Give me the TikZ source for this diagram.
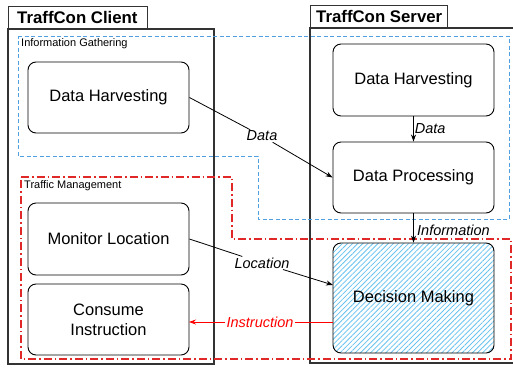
\documentclass[tikz,border=0pt]{standalone}
\usepackage{fontspec}
\setmainfont{Liberation Sans}
\usetikzlibrary{patterns.meta,arrows.meta}
\definecolor{gblue}{RGB}{80,160,225}
\definecolor{mgmtred}{RGB}{225,40,40}
\definecolor{hatch}{RGB}{105,195,240}
\begin{document}
\begin{tikzpicture}[x=1pt,y=-1pt,
  outer/.style={draw=black!80,line width=1.1pt},
  tab/.style={draw=black!80,line width=1.1pt,minimum height=23pt,inner sep=0pt},
  title/.style={font=\fontsize{16.8}{19}\selectfont\bfseries,anchor=west,inner sep=0pt},
  proc/.style={draw=black,line width=0.9pt,rounded corners=8pt,align=center,inner sep=0pt,font=\fontsize{16.5}{20}\selectfont},
  grp/.style={font=\fontsize{11}{13}\selectfont,anchor=north west,inner sep=0pt},
  lbl/.style={font=\fontsize{14.5}{17}\selectfont\itshape,inner sep=1pt},
  conn/.style={draw=black,line width=0.8pt},
  arr/.style={conn,-{Stealth[length=7pt,width=5pt]}}]
\useasboundingbox (0,0) rectangle (513,367);
\fill[white] (0,0) rectangle (513,367);
% outer frames
\draw[outer] (8,29) rectangle (214,364);
\draw[outer] (310,28) rectangle (520,363);
\node[tab,minimum width=139pt,anchor=north west] (ctab) at (8,6) {};
\node[title] (ctitle) at (17,17.5) {TraffCon Client};
\node[tab,minimum width=137pt,anchor=north west] (stab) at (310,5) {};
\node[title] (stitle) at (316,16.5) {TraffCon Server};
% groups
\draw[draw=gblue,line width=0.8pt,dash pattern=on 4pt off 2.5pt] (18,36) -- (509,36) -- (509,219) -- (258,219) -- (258,156) -- (18,156) -- cycle;
\node[grp] (ig) at (21,38) {Information Gathering};
\draw[draw=mgmtred,line width=1.2pt,dash pattern=on 8pt off 3pt on 1.5pt off 3pt] (21,177) -- (232,177) -- (232,239) -- (511,239) -- (511,359) -- (21,359) -- cycle;
\node[grp] (tm) at (24,180) {Traffic Management};
% process nodes
\node[proc,minimum width=161pt,minimum height=71pt] (cdh) at (108.5,97.5) {Data Harvesting};
\node[proc,minimum width=161pt,minimum height=72pt] (ml) at (108.5,239) {Monitor Location};
\node[proc,minimum width=161pt,minimum height=71pt] (ci) at (108.5,319.5) {Consume\\Instruction};
\node[proc,minimum width=161pt,minimum height=72pt] (sdh) at (413.5,80) {Data Harvesting};
\node[proc,minimum width=161pt,minimum height=71pt] (dp) at (413.5,177.5) {Data Processing};
\node[proc,minimum width=161pt,minimum height=110pt,
  pattern={Lines[angle=45,distance=3.6pt,line width=0.8pt]},pattern color=hatch] (dm) at (413.5,298) {};
\node[font=\fontsize{16.5}{20}\selectfont] (dmt) at (413.5,298) {Decision Making};
% connectors
\node[lbl] (ld) at (262,136) {Data};
\draw[conn] (cdh.east) -- (ld);
\draw[arr] (ld) -- (dp.west);
\draw[arr] (sdh.south) -- node[lbl,right,pos=0.48] (ld2) {Data} (dp.north);
\draw[arr] (dp.south) -- (dm.north);
\node[lbl,anchor=west] (linfo) at (416,230) {Information};
\node[lbl] (lloc) at (262,263) {Location};
\draw[conn] (ml.east) -- (lloc);
\draw[arr] (lloc) -- (333,285);
\coordinate (dmw) at (333,322);
\coordinate (ciw) at (189,322);
\node[lbl,text=red] (linst) at (260,322) {Instruction};
\draw[red,line width=0.8pt] (dmw) -- (linst.east);
\draw[red,line width=0.8pt,-{Stealth[length=7pt,width=5pt]}] (linst.west) -- (ciw);
\end{tikzpicture}
\end{document}
